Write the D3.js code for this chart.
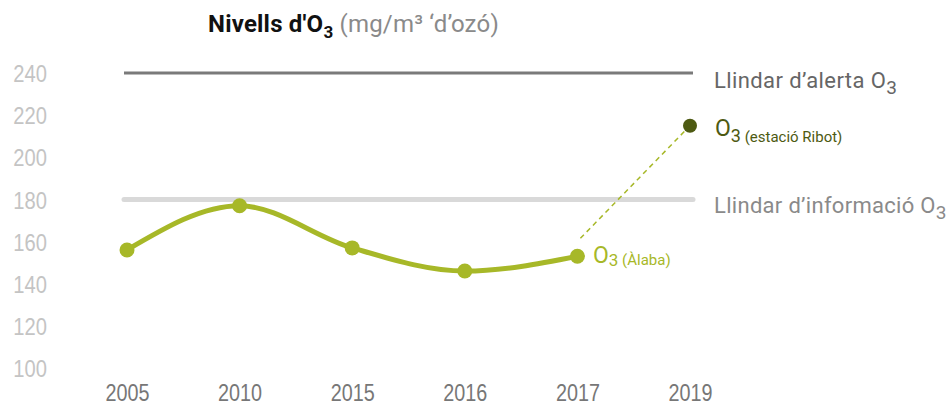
<!DOCTYPE html>
<html><head><meta charset="utf-8">
<script src="https://cdn.jsdelivr.net/npm/d3@7/dist/d3.min.js"></script>
<style>
body{margin:0;background:#fff;}
svg{display:block;font-family:"Roboto","Liberation Sans",sans-serif;}
</style></head><body>
<svg id="c" width="948" height="407"></svg>
<script>
const years = ["2005","2010","2015","2016","2017","2019"];
const alabaYears = ["2005","2010","2015","2016","2017"];
const alabaValues = [156, 177, 157, 146, 153];
const ribotYear = "2019";
const ribotValue = 215;
const yTicks = [100,120,140,160,180,200,220,240];
const alertThreshold = 240;
const infoThreshold = 180;

const AX = 0.84;
const svg = d3.select("#c");
const x = d3.scalePoint().domain(years).range([127, 690]);
const y = d3.scaleLinear().domain([100, 240]).range([368, 73]);

function label(px, py, color, size, ls) {
  return svg.append("text").attr("x", px).attr("y", py)
    .attr("fill", color).attr("font-size", size).attr("letter-spacing", ls || 0);
}

// Title
const title = label(208, 32, "#111", 24, 0.2);
title.append("tspan").attr("font-weight", "bold").text("Nivells d'O");
title.append("tspan").attr("font-weight", "bold").attr("font-size", 17).attr("dy", 6).text("3");
title.append("tspan").attr("fill", "#8a8a8a").attr("dy", -6).text(" (mg/m³ ‘d’ozó)");

// Y axis labels
const yAxis = d3.axisLeft(y).tickValues(yTicks).tickSize(0).tickPadding(0);
const gy = svg.append("g").attr("transform", "translate(47,0)").call(yAxis);
gy.select(".domain").remove();
gy.selectAll("text").attr("font-size", 24).attr("fill", "#c4c4c4").attr("font-family", null)
  .attr("dy", "0.36em").attr("transform", `scale(${AX},1)`);

// X axis labels
const xAxis = d3.axisBottom(x).tickSize(0).tickPadding(0);
const gx = svg.append("g").attr("transform", "translate(0,385)").call(xAxis);
gx.select(".domain").remove();
gx.selectAll("text").attr("font-size", 23).attr("fill", "#777").attr("font-family", null)
  .attr("dy", "0.71em").attr("transform", `scale(${AX + 0.02},1)`);

// Threshold lines
svg.append("line").attr("x1", 124).attr("x2", 693)
  .attr("y1", y(alertThreshold)).attr("y2", y(alertThreshold))
  .attr("stroke", "#7a7a7a").attr("stroke-width", 3);
svg.append("line").attr("x1", 124).attr("x2", 693)
  .attr("y1", y(infoThreshold)).attr("y2", y(infoThreshold))
  .attr("stroke", "#d9d9d9").attr("stroke-width", 5).attr("stroke-linecap", "round");

label(714, y(alertThreshold) + 15, "#666", 22, 0.4)
  .call(t => { t.append("tspan").text("Llindar d’alerta O"); t.append("tspan").attr("font-size", 19).attr("dy", 6).text("3"); });
label(714, y(infoThreshold) + 14, "#8a8a8a", 22, 0.3)
  .call(t => { t.append("tspan").text("Llindar d’informació O"); t.append("tspan").attr("font-size", 19).attr("dy", 6).text("3"); });

const green = "#a7b828";
const dark = "#4d5a12";

// Dashed connector
const p0 = [x(alabaYears[alabaYears.length-1]), y(alabaValues[alabaValues.length-1])];
const p1 = [x(ribotYear), y(ribotValue)];
svg.append("line")
  .attr("x1", p0[0] + 3).attr("y1", p0[1] - 18)
  .attr("x2", p1[0]).attr("y2", p1[1])
  .attr("stroke", green).attr("stroke-width", 1.5).attr("stroke-dasharray", "5,4");

// Line
const data = alabaYears.map((d,i) => ({year:d, value:alabaValues[i]}));
svg.append("path").datum(data)
  .attr("d", d3.line().x(d => x(d.year)).y(d => y(d.value)).curve(d3.curveMonotoneX))
  .attr("fill", "none").attr("stroke", green).attr("stroke-width", 5);
svg.selectAll("circle.a").data(data).enter().append("circle")
  .attr("cx", d => x(d.year)).attr("cy", d => y(d.value)).attr("r", 7.5).attr("fill", green);
svg.append("circle").attr("cx", p1[0]).attr("cy", p1[1]).attr("r", 7).attr("fill", dark);

// Series labels
label(593, p0[1] + 7, green, 23)
  .call(t => { t.append("tspan").text("O"); t.append("tspan").attr("font-size", 17).attr("dy", 3).text("3"); t.append("tspan").attr("font-size", 15).attr("dy", -1).text(" (Àlaba)"); });
label(715, p1[1] + 10, dark, 23)
  .call(t => { t.append("tspan").text("O"); t.append("tspan").attr("font-size", 18).attr("dy", 6).text("3"); t.append("tspan").attr("font-size", 15).text(" (estació Ribot)"); });
</script>
</body></html>
